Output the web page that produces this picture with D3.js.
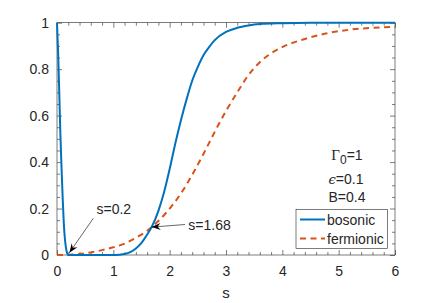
<!DOCTYPE html>
<html>
<head>
<meta charset="utf-8">
<script src="https://cdn.jsdelivr.net/npm/d3@7"></script>
<style>
  body { margin: 0; background: #fff; }
  text { font-family: "Liberation Sans", Arial, sans-serif; fill: #262626; }
</style>
</head>
<body>
<svg id="chart" width="436" height="303"></svg>
<script>
//data
var bosonS = [0, 0.02, 0.04, 0.06, 0.08, 0.1, 0.12, 0.14, 0.16, 0.18, 0.2, 0.3, 0.6, 1.0, 1.1, 1.2, 1.3, 1.4, 1.5, 1.6, 1.68, 1.8, 1.9, 2.0, 2.1, 2.2, 2.3, 2.4, 2.5, 2.6, 2.7, 2.8, 3.0, 3.2, 3.4, 3.6, 4.0, 4.5, 5.0, 6.0];
var bosonV = [1, 0.87, 0.7, 0.52, 0.38, 0.25, 0.14, 0.07, 0.03, 0.008, 0, 0, 0, 0, 0.001, 0.004, 0.012, 0.028, 0.052, 0.088, 0.12, 0.19, 0.27, 0.37, 0.48, 0.58, 0.67, 0.75, 0.81, 0.86, 0.895, 0.925, 0.96, 0.978, 0.988, 0.994, 0.998, 1, 1, 1];
var fermiS = [0, 0.2, 0.4, 0.6, 0.8, 1.0, 1.2, 1.4, 1.6, 1.68, 1.8, 2.0, 2.2, 2.4, 2.6, 2.8, 3.0, 3.2, 3.4, 3.6, 3.8, 4.0, 4.4, 4.8, 5.2, 5.6, 6.0];
var fermiV = [0, 0.001, 0.004, 0.011, 0.021, 0.033, 0.049, 0.074, 0.104, 0.12, 0.146, 0.2, 0.265, 0.345, 0.435, 0.53, 0.62, 0.70, 0.775, 0.83, 0.868, 0.895, 0.93, 0.955, 0.97, 0.978, 0.982];
var xTicks = [0, 1, 2, 3, 4, 5, 6];
var yTicks = [0, 0.2, 0.4, 0.6, 0.8, 1];
var yTickLabels = ["0", "0.2", "0.4", "0.6", "0.8", "1"];
var seriesNames = ["bosonic", "fermionic"];
var seriesColors = ["#0072BD", "#D95319"];

var svg = d3.select("#chart");
var axisColor = "#262626";

// -- scales
var x = d3.scaleLinear().domain([0, 6]).range([57, 395]);
var y = d3.scaleLinear().domain([0, 1]).range([255, 22.7]);

// -- minor ticks
var xMinor = d3.range(0, 6.001, 0.2).filter(function(v) { return Math.abs(v - Math.round(v)) > 1e-6; });
var yMinor = d3.range(0, 1.001, 0.05).filter(function(v) { return Math.abs(v * 5 - Math.round(v * 5)) > 1e-6; });

function styleAxis(g) {
  g.select(".domain").remove();
  g.selectAll("line").attr("stroke", axisColor).attr("stroke-width", 0.6);
  g.selectAll("text").attr("font-size", 14).attr("fill", axisColor)
    .attr("font-family", "Liberation Sans, Arial, sans-serif");
}

// bottom axis
svg.append("g").attr("transform", "translate(0," + y(0) + ")")
  .call(d3.axisBottom(x).tickValues(xTicks).tickFormat(d3.format("d")).tickSizeInner(-5).tickSizeOuter(0).tickPadding(11))
  .call(styleAxis);
svg.append("g").attr("transform", "translate(0," + y(0) + ")")
  .call(d3.axisBottom(x).tickValues(xMinor).tickFormat("").tickSizeInner(-3).tickSizeOuter(0))
  .call(styleAxis);
// top axis
svg.append("g").attr("transform", "translate(0," + y(1) + ")")
  .call(d3.axisTop(x).tickValues(xTicks).tickFormat("").tickSizeInner(-5).tickSizeOuter(0))
  .call(styleAxis);
svg.append("g").attr("transform", "translate(0," + y(1) + ")")
  .call(d3.axisTop(x).tickValues(xMinor).tickFormat("").tickSizeInner(-3).tickSizeOuter(0))
  .call(styleAxis);
// left axis
svg.append("g").attr("transform", "translate(" + x(0) + ",0)")
  .call(d3.axisLeft(y).tickValues(yTicks).tickFormat(function(d, i) { return yTickLabels[i]; }).tickSizeInner(-5).tickSizeOuter(0).tickPadding(8))
  .call(styleAxis);
svg.append("g").attr("transform", "translate(" + x(0) + ",0)")
  .call(d3.axisLeft(y).tickValues(yMinor).tickFormat("").tickSizeInner(-3).tickSizeOuter(0))
  .call(styleAxis);
// right axis
svg.append("g").attr("transform", "translate(" + x(6) + ",0)")
  .call(d3.axisRight(y).tickValues(yTicks).tickFormat("").tickSizeInner(-5).tickSizeOuter(0))
  .call(styleAxis);
svg.append("g").attr("transform", "translate(" + x(6) + ",0)")
  .call(d3.axisRight(y).tickValues(yMinor).tickFormat("").tickSizeInner(-3).tickSizeOuter(0))
  .call(styleAxis);

// box
svg.append("rect")
  .attr("x", x(0)).attr("y", y(1))
  .attr("width", x(6) - x(0)).attr("height", y(0) - y(1))
  .attr("fill", "none").attr("stroke", axisColor).attr("stroke-width", 0.6);

// x label
svg.append("text").attr("x", x(3)).attr("y", 298)
  .attr("text-anchor", "middle").attr("font-size", 15).text("s");

// -- lines
var line = d3.line()
  .x(function(d) { return x(d[0]); })
  .y(function(d) { return y(d[1]); })
  .curve(d3.curveMonotoneX);

var bosonData = bosonS.map(function(s, i) { return [s, bosonV[i]]; });
var fermiData = fermiS.map(function(s, i) { return [s, fermiV[i]]; });

svg.append("path").datum(fermiData)
  .attr("d", line).attr("fill", "none")
  .attr("stroke", seriesColors[1]).attr("stroke-width", 2)
  .attr("stroke-dasharray", "6,4.5");
svg.append("path").datum(bosonData)
  .attr("d", line).attr("fill", "none")
  .attr("stroke", seriesColors[0]).attr("stroke-width", 2);

// -- annotations with arrows
function arrow(x1, y1, x2, y2) {
  var ang = Math.atan2(y2 - y1, x2 - x1);
  svg.append("line").attr("x1", x1).attr("y1", y1).attr("x2", x2).attr("y2", y2)
    .attr("stroke", "#000").attr("stroke-width", 0.6);
  var L = 9, W = 3.5, B = 6;
  var pts = [
    [x2, y2],
    [x2 - L * Math.cos(ang) + W * Math.sin(ang), y2 - L * Math.sin(ang) - W * Math.cos(ang)],
    [x2 - B * Math.cos(ang), y2 - B * Math.sin(ang)],
    [x2 - L * Math.cos(ang) - W * Math.sin(ang), y2 - L * Math.sin(ang) + W * Math.cos(ang)]
  ];
  svg.append("path").attr("d", "M" + pts.join("L") + "Z").attr("fill", "#000");
}
arrow(93.3, 218.3, x(0.22), y(0.01));
svg.append("text").attr("x", 96.5).attr("y", 214).attr("font-size", 14).text("s=0.2");
arrow(185, 224.5, x(1.68), y(0.12));
svg.append("text").attr("x", 188.3).attr("y", 229.5).attr("font-size", 14).text("s=1.68");

// parameters
var params = svg.append("text").attr("x", 347).attr("y", 159.5).attr("text-anchor", "middle").attr("font-size", 14);
params.append("tspan").attr("font-family", "Liberation Serif, DejaVu Serif, serif").attr("font-size", 15).text("Γ");
params.append("tspan").attr("dy", 4).attr("font-size", 12).text("0");
params.append("tspan").attr("dy", -4).text("=1");
var eps = svg.append("text").attr("x", 346).attr("y", 183.5).attr("text-anchor", "middle").attr("font-size", 14);
eps.append("tspan").attr("font-family", "DejaVu Serif, serif").attr("font-style", "italic").attr("font-size", 13).text("ϵ");
eps.append("tspan").text("=0.1");
svg.append("text").attr("x", 347).attr("y", 201.8).attr("text-anchor", "middle").attr("font-size", 14).text("B=0.4");

// -- legend
var legend = svg.append("g");
legend.append("rect").attr("x", 296).attr("y", 209.3).attr("width", 91.3).attr("height", 39)
  .attr("fill", "#fff").attr("stroke", axisColor).attr("stroke-width", 0.6);
seriesNames.forEach(function(name, i) {
  var ly = 219.5 + i * 19;
  legend.append("line").attr("x1", 300).attr("x2", 325).attr("y1", ly).attr("y2", ly)
    .attr("stroke", seriesColors[i]).attr("stroke-width", 2)
    .attr("stroke-dasharray", i === 1 ? "6,4.5" : null);
  legend.append("text").attr("x", 327).attr("y", ly + 5).attr("font-size", 14).text(name);
});
</script>
</body>
</html>
